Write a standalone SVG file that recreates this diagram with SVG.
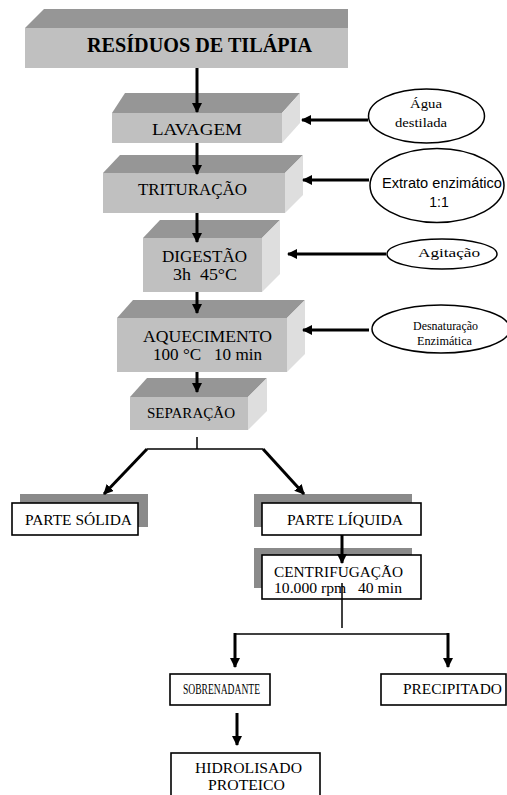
<svg xmlns="http://www.w3.org/2000/svg" width="507" height="795" viewBox="0 0 507 795">
<style>
.front{fill:#c0c0c0}
.top{fill:#969696}
.side{fill:#dedede}
.shadow{fill:#8a8a8a}
.flat{fill:#fff;stroke:#000;stroke-width:1.6}
.ell{fill:#fff;stroke:#000;stroke-width:1.5}
.t{font-family:"Liberation Serif","Times New Roman",serif;fill:#000;text-anchor:middle;white-space:pre}
.s{font-family:"Liberation Sans",Arial,sans-serif;fill:#000;text-anchor:middle}
.arr{stroke:#000;stroke-width:3;fill:none;marker-end:url(#ah)}
.ln{stroke:#000;stroke-width:1.5;fill:none}
</style>
<defs>
<marker id="ah" markerUnits="userSpaceOnUse" markerWidth="10" markerHeight="10" refX="9" refY="5" orient="auto">
<path d="M0,0 L10,5 L0,10 z" fill="#000"/>
</marker>
</defs>
<rect width="507" height="795" fill="#fff"/>

<g id="residuos">
<polygon class="top" points="25,28 44,9 348,9 348,28"/>
<rect class="front" x="25" y="28" width="323" height="40"/>
<text class="t" x="199.5" y="52" font-size="20" font-weight="bold" textLength="225" lengthAdjust="spacingAndGlyphs">RESÍDUOS DE TILÁPIA</text>
</g>

<g id="lavagem">
<polygon class="top" points="112,113 125,93 300,93 282,113"/>
<polygon class="side" points="282,113 300,93 300,123 282,143"/>
<rect class="front" x="112" y="113" width="170" height="30"/>
<text class="t" x="197" y="135" font-size="17" textLength="90" lengthAdjust="spacingAndGlyphs">LAVAGEM</text>
</g>

<g id="trituracao">
<polygon class="top" points="103,173 120,155 303,155 285,173"/>
<polygon class="side" points="285,173 303,155 303,195 285,213"/>
<rect class="front" x="103" y="173" width="182" height="40"/>
<text class="t" x="192.5" y="195" font-size="17" textLength="109" lengthAdjust="spacingAndGlyphs">TRITURAÇÃO</text>
</g>

<g id="digestao">
<polygon class="top" points="143,238 160,220 280,220 262,238"/>
<polygon class="side" points="262,238 280,220 280,274 262,292"/>
<rect class="front" x="143" y="238" width="119" height="54"/>
<text class="t" x="204.5" y="262" font-size="17" textLength="85" lengthAdjust="spacingAndGlyphs">DIGESTÃO</text>
<text class="t" x="205" y="280" font-size="17" textLength="64" lengthAdjust="spacingAndGlyphs" xml:space="preserve">3h  45°C</text>
</g>

<g id="aquecimento">
<polygon class="top" points="117,318 133,300 305,300 287,318"/>
<polygon class="side" points="287,318 305,300 305,354 287,372"/>
<rect class="front" x="117" y="318" width="170" height="54"/>
<text class="t" x="207.5" y="342" font-size="17" textLength="129" lengthAdjust="spacingAndGlyphs">AQUECIMENTO</text>
<text class="t" x="207.5" y="360" font-size="17" textLength="109" lengthAdjust="spacingAndGlyphs" xml:space="preserve">100 °C   10 min</text>
</g>

<g id="separacao">
<polygon class="top" points="130,397 147,378 267,378 248,397"/>
<polygon class="side" points="248,397 267,378 267,411 248,430"/>
<rect class="front" x="130" y="397" width="118" height="33"/>
<text class="t" x="191" y="418" font-size="14" textLength="88" lengthAdjust="spacingAndGlyphs">SEPARAÇÃO</text>
</g>

<g id="agua">
<ellipse class="ell" cx="426.5" cy="116" rx="58" ry="27"/>
<text class="t" x="426" y="108" font-size="12" textLength="32" lengthAdjust="spacingAndGlyphs">Água</text>
<text class="t" x="421" y="127" font-size="12" textLength="52" lengthAdjust="spacingAndGlyphs">destilada</text>
</g>

<g id="extrato">
<ellipse class="ell" cx="437" cy="185.5" rx="67" ry="37"/>
<text class="s" x="442" y="188" font-size="14" textLength="120" lengthAdjust="spacingAndGlyphs">Extrato enzimático</text>
<text class="s" x="439" y="207" font-size="14">1:1</text>
</g>

<g id="agitacao">
<ellipse class="ell" cx="442" cy="254" rx="55" ry="15"/>
<text class="t" x="449" y="257" font-size="12" textLength="62" lengthAdjust="spacingAndGlyphs">Agitação</text>
</g>

<g id="desnaturacao">
<ellipse class="ell" cx="441" cy="329" rx="69" ry="24"/>
<text class="t" x="445.5" y="330" font-size="12" textLength="65" lengthAdjust="spacingAndGlyphs">Desnaturação</text>
<text class="t" x="444.5" y="345" font-size="12" textLength="55" lengthAdjust="spacingAndGlyphs">Enzimática</text>
</g>

<g id="parte-solida">
<rect class="shadow" x="20" y="494" width="128" height="33"/>
<rect class="flat" x="12" y="503" width="126" height="32" stroke-width="2"/>
<text class="t" x="78.5" y="525" font-size="15" textLength="107" lengthAdjust="spacingAndGlyphs">PARTE SÓLIDA</text>
</g>

<g id="parte-liquida">
<rect class="shadow" x="254" y="494" width="158" height="33"/>
<rect class="flat" x="262" y="503" width="159" height="32"/>
<text class="t" x="345" y="525" font-size="15" textLength="116" lengthAdjust="spacingAndGlyphs">PARTE LÍQUIDA</text>
</g>

<g id="centrifugacao">
<rect class="shadow" x="254" y="548" width="158" height="40"/>
<rect class="flat" x="262" y="555" width="159" height="44"/>
<text class="t" x="338.5" y="577" font-size="15" textLength="129" lengthAdjust="spacingAndGlyphs">CENTRIFUGAÇÃO</text>
<text class="t" x="338" y="593" font-size="15" textLength="128" lengthAdjust="spacingAndGlyphs" xml:space="preserve">10.000 rpm   40 min</text>
</g>

<g id="sobrenadante">
<rect class="flat" x="170" y="674" width="100" height="31"/>
<text class="t" x="221.5" y="694" font-size="14" textLength="77" lengthAdjust="spacingAndGlyphs">SOBRENADANTE</text>
</g>

<g id="precipitado">
<rect class="flat" x="381" y="674" width="125" height="31"/>
<text class="t" x="452.5" y="694" font-size="14" textLength="99" lengthAdjust="spacingAndGlyphs">PRECIPITADO</text>
</g>

<g id="hidrolisado">
<rect class="flat" x="171" y="753" width="149" height="50"/>
<text class="t" x="248.5" y="773" font-size="14" textLength="107" lengthAdjust="spacingAndGlyphs">HIDROLISADO</text>
<text class="t" x="246.5" y="790" font-size="14" textLength="77" lengthAdjust="spacingAndGlyphs">PROTEICO</text>
</g>

<g id="connectors">
<line class="arr" x1="197" y1="68" x2="197" y2="112"/>
<line class="arr" x1="197" y1="143" x2="197" y2="174"/>
<line class="arr" x1="197" y1="213" x2="197" y2="242"/>
<line class="arr" x1="197" y1="292" x2="197" y2="313"/>
<line class="arr" x1="197" y1="372" x2="197" y2="392"/>
<line class="arr" x1="368" y1="120" x2="302" y2="120"/>
<line class="arr" x1="369" y1="180" x2="303" y2="180"/>
<line class="arr" x1="386" y1="254" x2="288" y2="254"/>
<line class="arr" x1="369" y1="330" x2="303" y2="330"/>
<line class="ln" x1="197" y1="437" x2="197" y2="449"/>
<line class="ln" x1="147" y1="449" x2="263" y2="449"/>
<line class="arr" x1="147" y1="449" x2="104" y2="494"/>
<line class="arr" x1="263" y1="449" x2="304" y2="494"/>
<line class="arr" x1="342" y1="535" x2="342" y2="563"/>
<line class="ln" x1="342" y1="583" x2="342" y2="628"/>
<line class="ln" x1="235" y1="634" x2="448" y2="634"/>
<line class="arr" x1="235" y1="633" x2="235" y2="667"/>
<line class="arr" x1="448" y1="633" x2="448" y2="667"/>
<line class="arr" x1="237" y1="713" x2="237" y2="745"/>
</g>
</svg>
